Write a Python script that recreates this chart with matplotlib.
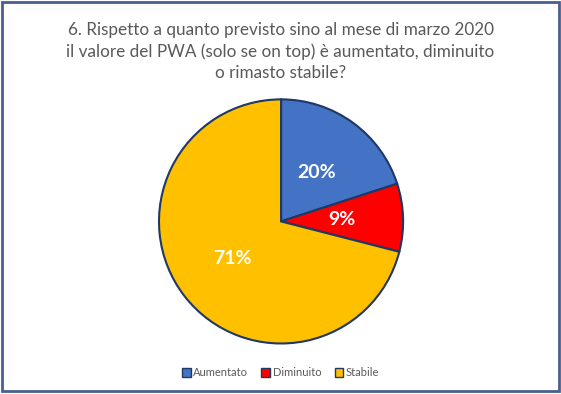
import matplotlib
matplotlib.use("Agg")
import matplotlib.pyplot as plt
from matplotlib.patches import Rectangle, Patch

categories = ["Aumentato", "Diminuito", "Stabile"]
values = [20, 9, 71]
colors = ["#4472C4", "#FF0000", "#FFC000"]
title = "6. Rispetto a quanto previsto sino al mese di marzo 2020\nil valore del PWA (solo se on top) è aumentato, diminuito\no rimasto stabile?"

plt.rcParams['font.family'] = ['Lato', 'DejaVu Sans']

fig = plt.figure(figsize=(5.61, 3.94), dpi=100)
ax = fig.add_axes([0.279, 0.122, 0.444, 0.632])
wedges, texts, autotexts = ax.pie(
    values, colors=colors, startangle=90, counterclock=False,
    autopct=lambda p: f"{p:.0f}%", pctdistance=0.5, radius=1,
    wedgeprops=dict(edgecolor="#1F3864", linewidth=1.5))
for t in autotexts:
    t.set_color("white")
    t.set_fontsize(14)
    t.set_fontweight("bold")
ax.set_xlim(-1.02, 1.02)
ax.set_ylim(-1.02, 1.02)
ax.set_aspect("equal")
ax.axis("off")

fig.text(0.5, 0.945, title, ha="center", va="top", fontsize=12.3,
         color="#595959", linespacing=1.40)

handles = [Patch(facecolor=c, edgecolor="#1F3864", linewidth=1.0) for c in colors]
fig.legend(handles, categories, loc="center", bbox_to_anchor=(0.5, 0.054),
           ncol=3, frameon=False, fontsize=8, handlelength=0.8, handleheight=0.8,
           handletextpad=0.2, columnspacing=1.2, labelcolor="#595959")

fig.patches.append(Rectangle((0.004, 0.008), 0.992, 0.986, transform=fig.transFigure,
                             fill=False, edgecolor="#4A5F8E", linewidth=2))

fig.savefig("out.png", dpi=100)
